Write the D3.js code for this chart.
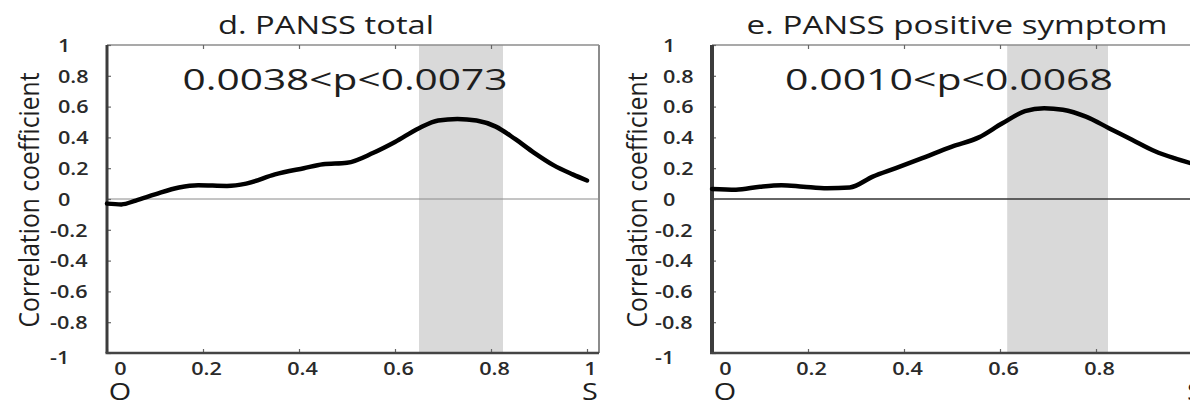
<!DOCTYPE html>
<html>
<head>
<meta charset="utf-8">
<script src="https://cdn.jsdelivr.net/npm/d3@7"></script>
<style>
body { margin: 0; background: #fff; }
svg { display: block; }
text { font-family: "Open Sans", sans-serif; fill: #1e1e1e; }
</style>
</head>
<body>
<script>
// values
var xTicks = [0, 0.2, 0.4, 0.6, 0.8, 1];
var yTicks = [1, 0.8, 0.6, 0.4, 0.2, 0, -0.2, -0.4, -0.6, -0.8, -1];
var endLabels = ["O", "S"];

var titles = ["d. PANSS total", "e. PANSS positive symptom"];
var pLabels = ["0.0038<p<0.0073", "0.0010<p<0.0068"];
var bands = [[0.65, 0.825], [0.615, 0.825]];

var totalX = [0, 0.03, 0.06, 0.1, 0.15, 0.19, 0.25, 0.29, 0.35, 0.41, 0.45, 0.5, 0.555, 0.6, 0.65, 0.69, 0.73, 0.77, 0.81, 0.85, 0.89, 0.93, 0.97, 1.0];
var totalY = [-0.03, -0.035, -0.01, 0.03, 0.075, 0.09, 0.085, 0.1, 0.16, 0.2, 0.225, 0.235, 0.3, 0.37, 0.46, 0.51, 0.52, 0.51, 0.47, 0.39, 0.3, 0.22, 0.16, 0.12];

var positiveX = [0, 0.05, 0.1, 0.145, 0.19, 0.24, 0.287, 0.335, 0.383, 0.438, 0.5, 0.556, 0.604, 0.652, 0.692, 0.731, 0.779, 0.827, 0.875, 0.923, 0.963, 1.0];
var positiveY = [0.065, 0.06, 0.08, 0.09, 0.08, 0.07, 0.075, 0.145, 0.2, 0.265, 0.34, 0.4, 0.49, 0.57, 0.59, 0.58, 0.535, 0.46, 0.385, 0.31, 0.265, 0.23];

var W = 1190, H = 401;
var sx = 1.2; // the figure is stretched sideways

var svg = d3.select("body").append("svg")
    .attr("width", W)
    .attr("height", H);

var panels = [
    { left: 107, xs: totalX, ys: totalY, titleX: 326, titleW: 216, pX: 345, pW: 325, labX: 30, zero: "#8a8a8a", zeroW: 1, axisW: 3 },
    { left: 712, xs: positiveX, ys: positiveY, titleX: 957, titleW: 421, pX: 949, pW: 328, labX: 638, zero: "#333", zeroW: 1.6, axisW: 4 }
];

var plotTop = 45, plotBottom = 353, plotWidth = 492;

function stretchText(g, x, y, str, size, len) {
    var t = g.append("text")
        .attr("transform", "translate(" + x + "," + y + ") scale(" + sx + ",1)")
        .attr("text-anchor", "middle")
        .style("font-size", size + "px")
        .text(str);
    if (len) t.attr("textLength", len / sx).attr("lengthAdjust", "spacingAndGlyphs");
    return t;
}

function plain(d) { return String(d); }

panels.forEach(function (p, i) {
    var x = d3.scaleLinear().domain([0, 1.025]).range([p.left, p.left + plotWidth]);
    var y = d3.scaleLinear().domain([-1, 1]).range([plotBottom, plotTop]);
    var xEnd = x.range()[1];

    // significant window
    svg.append("rect")
        .attr("x", x(bands[i][0]))
        .attr("y", y(1))
        .attr("width", x(bands[i][1]) - x(bands[i][0]))
        .attr("height", y(-1) - y(1))
        .attr("fill", "#d9d9d9");

    // zero line
    svg.append("line")
        .attr("x1", x(0)).attr("x2", xEnd)
        .attr("y1", y(0)).attr("y2", y(0))
        .attr("stroke", p.zero)
        .attr("stroke-width", p.zeroW);

    // box
    svg.append("line").attr("x1", x(0)).attr("x2", xEnd).attr("y1", y(1)).attr("y2", y(1))
        .attr("stroke", "#8c8c8c").attr("stroke-width", 1.6);
    svg.append("line").attr("x1", xEnd).attr("x2", xEnd).attr("y1", y(1)).attr("y2", y(-1))
        .attr("stroke", "#8c8c8c").attr("stroke-width", 2);

    var xb = svg.append("g")
        .attr("transform", "translate(0," + plotBottom + ")")
        .call(d3.axisBottom(x).tickValues(xTicks).tickSize(-4).tickFormat(plain));
    xb.select(".domain").remove();
    xb.selectAll(".tick line").attr("stroke", "#666").attr("stroke-width", 1.2);
    xb.selectAll(".tick text")
        .attr("y", 22).attr("dy", null)
        .attr("x", function (d) { return (d === 0 ? 13 : 3) / sx; })
        .attr("transform", "scale(" + sx + ",1)")
        .style("font-size", "18px")
        .style("font-weight", 600)
        .style("fill", "#2a2a2a");

    var xt = svg.append("g")
        .attr("transform", "translate(0," + plotTop + ")")
        .call(d3.axisTop(x).tickValues(xTicks.slice(1, -1)).tickSize(-4).tickFormat(""));
    xt.select(".domain").remove();
    xt.selectAll(".tick line").attr("stroke", "#666").attr("stroke-width", 1.2);

    var ya = svg.append("g")
        .attr("transform", "translate(" + p.left + ",0)")
        .call(d3.axisLeft(y).tickValues(yTicks).tickSize(-4).tickFormat(plain));
    ya.select(".domain").remove();
    ya.selectAll(".tick line").attr("stroke", "#666").attr("stroke-width", 1.2);
    ya.selectAll(".tick text")
        .attr("text-anchor", "start")
        .attr("x", function (d) { return (d < 0 ? -57 : -49) / sx; })
        .attr("dy", function (d) { return d === -1 ? "0.6em" : "0.35em"; })
        .attr("transform", "scale(" + sx + ",1)")
        .style("font-size", "18px")
        .style("font-weight", 600)
        .style("fill", "#2a2a2a");

    // left and bottom axis lines
    svg.append("line").attr("x1", x(0)).attr("x2", x(0)).attr("y1", y(1)).attr("y2", y(-1))
        .attr("stroke", "#3c3c3c").attr("stroke-width", p.axisW);
    svg.append("line").attr("x1", x(0) - p.axisW / 2).attr("x2", xEnd).attr("y1", y(-1)).attr("y2", y(-1))
        .attr("stroke", "#444").attr("stroke-width", 2.6);

    // curve
    var pts = p.xs.map(function (v, k) { return [v, p.ys[k]]; });
    svg.append("path")
        .datum(pts)
        .attr("fill", "none")
        .attr("stroke", "#000")
        .attr("stroke-width", 4.5)
        .attr("stroke-linecap", "round")
        .attr("d", d3.line()
            .x(function (d) { return x(d[0]); })
            .y(function (d) { return y(d[1]); })
            .curve(d3.curveMonotoneX));

    // end labels
    stretchText(svg, x(0) + 13, 400, endLabels[0], 24);
    stretchText(svg, x(1) + 3, 400, endLabels[1], 24);

    // texts
    stretchText(svg, p.titleX, 34, titles[i], 26, p.titleW);
    stretchText(svg, p.pX, 90, pLabels[i], 30, p.pW);

    svg.append("text")
        .attr("transform", "translate(" + p.labX + ",200) scale(" + sx + ",1) rotate(-90)")
        .attr("text-anchor", "middle")
        .attr("dy", "0.35em")
        .attr("textLength", 255)
        .attr("lengthAdjust", "spacingAndGlyphs")
        .style("font-size", "22px")
        .text("Correlation coefficient");
});
</script>
</body>
</html>
